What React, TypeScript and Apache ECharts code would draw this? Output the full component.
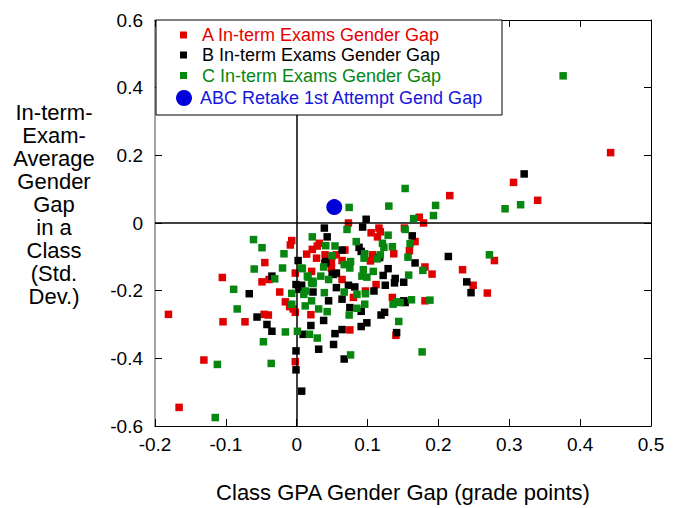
import React, { useEffect, useRef } from "react";
import * as echarts from "echarts";

const xTicks = { min: -0.2, max: 0.5, interval: 0.1 };
const yTicks = { min: -0.6, max: 0.6, interval: 0.2 };

const seriesNames = [
  "A In-term Exams Gender Gap",
  "B In-term Exams Gender Gap",
  "C In-term Exams Gender Gap",
  "ABC Retake 1st Attempt Gend Gap",
];

const xTitle = "Class GPA Gender Gap (grade points)";
const yTitleLines = ["In-term-", "Exam-", "Average", "Gender", "Gap", "in a", "Class", "(Std.", "Dev.)"];

const aPoints: [number, number][] = [
  [-0.181, -0.27], [-0.166, -0.545], [-0.131, -0.405], [-0.104, -0.292], [-0.073, -0.292],
  [-0.046, -0.27], [-0.04, -0.272], [-0.024, -0.204], [-0.016, -0.233], [-0.01, -0.247],
  [-0.005, -0.254], [-0.002, -0.264], [-0.002, -0.41], [0.02, -0.271], [-0.105, -0.161],
  [-0.045, -0.117], [-0.049, -0.174], [-0.039, -0.167], [-0.007, -0.052], [-0.009, -0.065],
  [-0.002, -0.148], [0.014, -0.092], [0.022, -0.078], [0.029, -0.068], [0.028, -0.104],
  [0.04, -0.094], [0.04, -0.118], [0.049, -0.133], [0.056, -0.094], [0.216, 0.081],
  [0.173, 0.017], [0.179, 0.0], [0.073, 0.0], [0.116, -0.015], [0.118, -0.026],
  [0.152, -0.015], [0.105, -0.029], [0.114, -0.041], [0.167, -0.055], [0.159, -0.082],
  [0.137, -0.091], [0.104, -0.112], [0.064, -0.111], [0.032, -0.06], [0.049, -0.117],
  [0.068, -0.08], [0.181, -0.13], [0.191, -0.151], [0.234, -0.138], [0.249, -0.184],
  [0.064, -0.167], [0.112, -0.182], [0.097, -0.201], [0.135, -0.22], [0.181, -0.23],
  [0.08, -0.22], [0.021, -0.143], [0.443, 0.208], [0.306, 0.12], [0.34, 0.067],
  [0.279, -0.111], [0.269, -0.207], [0.075, -0.316], [0.14, -0.332], [0.107, -0.094],
];

const bPoints: [number, number][] = [
  [0.098, 0.011], [0.039, -0.015], [0.093, -0.012], [0.043, -0.041], [0.163, -0.038],
  [0.064, -0.08], [0.088, -0.072], [0.091, -0.084], [0.214, -0.099], [0.041, -0.114],
  [0.167, -0.118], [0.129, -0.135], [0.122, -0.155], [0.139, -0.164], [0.151, -0.175],
  [0.125, -0.184], [0.24, -0.174], [0.246, -0.206], [0.05, -0.151], [0.073, -0.184],
  [0.082, -0.189], [0.056, -0.191], [0.023, -0.204], [0.109, -0.201], [0.064, -0.225],
  [0.045, -0.23], [0.151, -0.23], [0.321, 0.145], [0.075, -0.25], [0.091, -0.261],
  [0.153, -0.235], [0.038, -0.288], [0.119, -0.272], [0.124, -0.264], [0.099, -0.295],
  [0.091, -0.306], [0.064, -0.315], [0.02, -0.303], [0.054, -0.327], [0.141, -0.324],
  [0.009, -0.329], [0.052, -0.359], [0.031, -0.373], [0.067, -0.402], [0.007, -0.497],
  [-0.067, -0.209], [-0.056, -0.278], [-0.042, -0.3], [-0.035, -0.32], [-0.001, -0.378],
  [-0.001, -0.434], [0.002, -0.111], [-0.035, -0.157], [-0.001, -0.182], [0.007, -0.184],
  [0.052, -0.152], [0.04, -0.119], [0.056, -0.148], [0.117, -0.102], [0.138, -0.177],
  [0.003, -0.196],
];

const cPoints: [number, number][] = [
  [0.376, 0.435], [0.294, 0.042], [0.316, 0.054], [0.272, -0.094], [0.153, 0.102],
  [0.074, 0.046], [0.13, 0.05], [0.196, 0.052], [0.193, 0.022], [0.165, 0.013],
  [0.153, -0.019], [0.071, -0.019], [0.129, -0.036], [0.022, -0.041], [0.041, -0.067],
  [0.054, -0.068], [0.084, -0.055], [0.121, -0.06], [0.123, -0.072], [0.135, -0.07],
  [0.16, -0.061], [0.118, -0.094], [0.096, -0.091], [0.095, -0.104], [0.114, -0.106],
  [0.157, -0.101], [0.05, -0.097], [0.076, -0.114], [0.067, -0.123], [0.075, -0.133],
  [0.038, -0.13], [0.094, -0.138], [0.108, -0.143], [0.092, -0.157], [0.099, -0.16],
  [0.158, -0.154], [0.178, -0.14], [0.015, -0.157], [0.008, -0.135], [0.034, -0.157],
  [0.045, -0.167], [0.023, -0.172], [0.012, -0.201], [0.039, -0.206], [0.067, -0.204],
  [0.085, -0.211], [0.097, -0.209], [0.162, -0.227], [0.188, -0.228], [0.141, -0.233],
  [0.012, -0.245], [0.021, -0.23], [0.096, -0.24], [0.085, -0.252], [0.136, -0.24],
  [0.146, -0.235], [0.031, -0.254], [0.043, -0.262], [0.074, -0.272], [0.144, -0.291],
  [0.018, -0.329], [0.029, -0.34], [0.076, -0.39], [0.177, -0.381], [-0.089, -0.196],
  [-0.084, -0.254], [-0.016, -0.322], [0.001, -0.32], [-0.047, -0.351], [-0.112, -0.418],
  [-0.036, -0.415], [-0.115, -0.575], [-0.007, -0.208], [-0.007, -0.24], [-0.061, -0.049],
  [-0.049, -0.073], [-0.018, -0.091], [-0.06, -0.136], [-0.02, -0.133], [-0.031, -0.165],
  [0.023, -0.179], [0.007, -0.133], [0.016, -0.16], [0.021, -0.177], [0.01, -0.211],
];

const retakePoints: [number, number][] = [[0.053, 0.047]];

const colors = ["#e00000", "#000000", "#07870f", "#0000d8"];
const textColors = ["#e60000", "#000000", "#07870f", "#1515e0"];

const FONT = "'Liberation Sans', Arial, Helvetica, sans-serif";

export default function App() {
  const ref = useRef<HTMLDivElement>(null);
  useEffect(() => {
    if (!ref.current) return;
    const chart = echarts.init(ref.current, undefined, { renderer: "svg" });
    const gridLeft = 155, gridTop = 20, gridRight = 27, gridBottom = 76;

    const tick = { show: true, inside: true, length: 7, lineStyle: { color: "#000", width: 1 } };
    const legendRows = [35, 55, 75.5, 98];
    const legendGraphics: any[] = [
      {
        type: "rect",
        shape: { x: 156, y: 20, width: 346, height: 95 },
        style: { fill: "#fff", stroke: "#000", lineWidth: 1 },
        z: 100,
      },
    ];
    seriesNames.forEach((name, i) => {
      if (i < 3) {
        legendGraphics.push({
          type: "rect",
          shape: { x: 180, y: legendRows[i] - 3.5, width: 7, height: 7 },
          style: { fill: colors[i] },
          z: 101,
        });
      } else {
        legendGraphics.push({
          type: "circle",
          shape: { cx: 184, cy: legendRows[i], r: 8 },
          style: { fill: colors[i] },
          z: 101,
        });
      }
      legendGraphics.push({
        type: "text",
        x: i === 3 ? 200 : 202,
        y: legendRows[i],
        style: {
          text: name,
          fill: textColors[i],
          font: `18px ${FONT}`,
          textAlign: "left",
          textVerticalAlign: "middle",
        },
        z: 101,
      });
    });
    legendGraphics.push({
      type: "text",
      x: 54,
      y: 101,
      style: {
        text: yTitleLines.join("\n"),
        fill: "#000",
        font: `22px ${FONT}`,
        lineHeight: 23,
        textAlign: "center",
        textVerticalAlign: "top",
      },
    });

    const scatter = (name: string, data: [number, number][], i: number, symbol: string, size: number) => ({
      type: "scatter",
      name,
      data,
      symbol,
      symbolSize: size,
      itemStyle: { color: colors[i], opacity: 1 },
      emphasis: { disabled: true },
      z: 3 + i,
    });

    chart.setOption({
      animation: false,
      textStyle: { fontFamily: FONT },
      grid: { left: gridLeft, top: gridTop, right: gridRight, bottom: gridBottom, containLabel: false },
      xAxis: [
        {
          type: "value",
          position: "bottom",
          min: xTicks.min,
          max: xTicks.max,
          interval: xTicks.interval,
          axisLine: { show: true, onZero: false, lineStyle: { color: "#000", width: 1 } },
          axisTick: tick,
          splitLine: { show: false },
          axisLabel: { color: "#000", fontSize: 19, margin: 9, fontFamily: FONT },
          name: xTitle,
          nameLocation: "middle",
          nameGap: 55,
          nameTextStyle: { color: "#000", fontSize: 22, fontFamily: FONT },
        },
        {
          type: "value",
          position: "top",
          min: xTicks.min,
          max: xTicks.max,
          interval: xTicks.interval,
          axisLine: { show: true, onZero: false, lineStyle: { color: "#000", width: 1 } },
          axisTick: tick,
          splitLine: { show: false },
          axisLabel: { show: false },
        },
      ],
      yAxis: [
        {
          type: "value",
          position: "left",
          min: yTicks.min,
          max: yTicks.max,
          interval: yTicks.interval,
          axisLine: { show: true, onZero: false, lineStyle: { color: "#888", width: 1.5 } },
          axisTick: tick,
          splitLine: { show: false },
          axisLabel: { color: "#000", fontSize: 19, margin: 12, fontFamily: FONT },
        },
        {
          type: "value",
          position: "right",
          min: yTicks.min,
          max: yTicks.max,
          interval: yTicks.interval,
          axisLine: { show: true, onZero: false, lineStyle: { color: "#000", width: 1 } },
          axisTick: tick,
          splitLine: { show: false },
          axisLabel: { show: false },
        },
      ],
      series: [
        {
          type: "scatter",
          name: "zero",
          data: [],
          silent: true,
          z: 2,
          markLine: {
            silent: true,
            symbol: "none",
            animation: false,
            label: { show: false },
            lineStyle: { color: "#000", width: 1.5, type: "solid" },
            emphasis: { disabled: true },
            data: [{ xAxis: 0 }, { yAxis: 0 }],
          },
        },
        scatter(seriesNames[0], aPoints, 0, "rect", 7.5),
        scatter(seriesNames[1], bPoints, 1, "rect", 7.5),
        scatter(seriesNames[2], cPoints, 2, "rect", 7.5),
        scatter(seriesNames[3], retakePoints, 3, "circle", 16),
      ],
      graphic: legendGraphics,
    });
    return () => chart.dispose();
  }, []);
  return (
    <div
      ref={ref}
      style={{ position: "absolute", left: 0, top: 0, width: 678, height: 508, background: "#fff" }}
    />
  );
}
